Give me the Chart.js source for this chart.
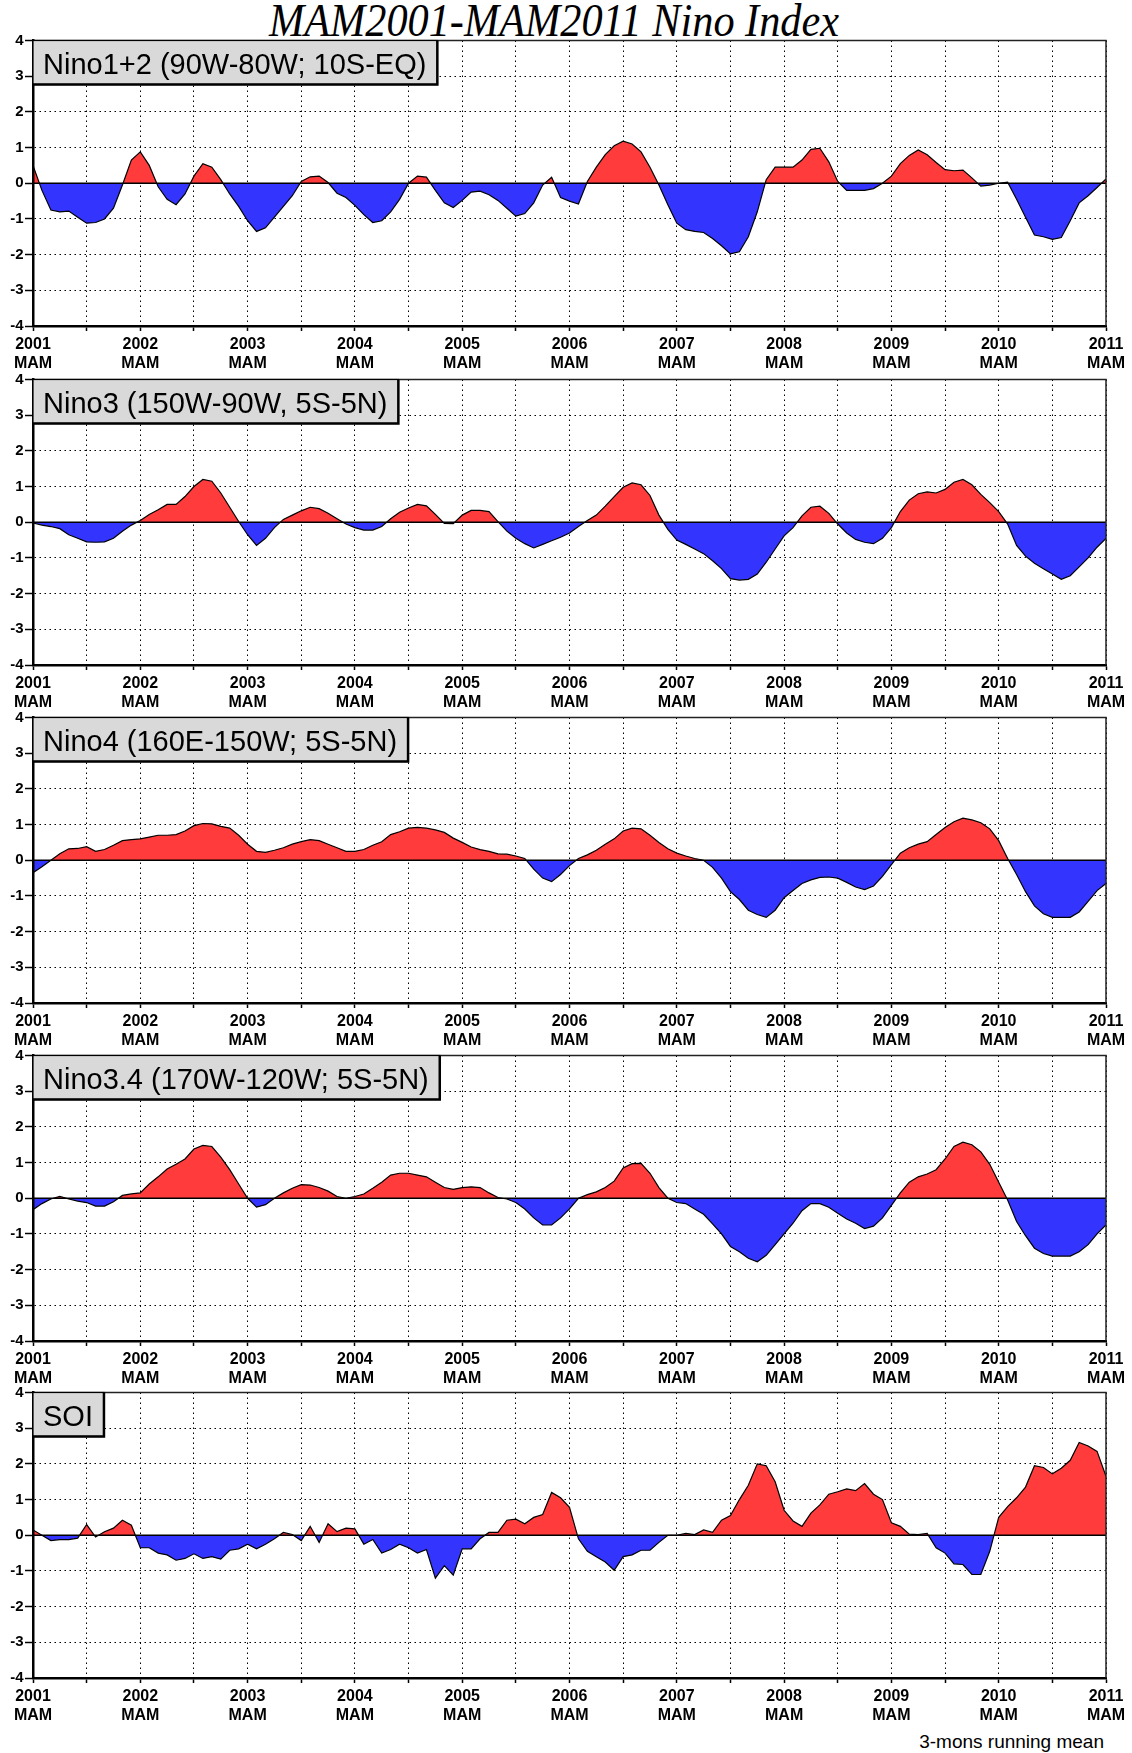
<!DOCTYPE html>
<html>
<head>
<meta charset="utf-8">
<title>MAM2001-MAM2011 Nino Index</title>
<script src="https://cdn.jsdelivr.net/npm/chart.js@4.4.1/dist/chart.umd.min.js"></script>
<style>
  body { margin: 0; background: #fff; }
  #page { position: relative; width: 1132px; height: 1753px; overflow: hidden; background: #fff; }
  #title {
    position: absolute; left: 0; top: -3px; width: 1108px; text-align: center;
    font: italic 47px/47px "Liberation Serif", "Times New Roman", serif; color: #000;
    transform: scaleX(0.9); transform-origin: 554px 0;
  }
  canvas.panel { position: absolute; left: 0; }
  #note {
    position: absolute; right: 28px; top: 1732px;
    font: 19px/19px "Liberation Sans", Arial, sans-serif; color: #000;
  }
</style>
</head>
<body>
<div id="page">
  <div id="title">MAM2001-MAM2011 Nino Index</div>
  <canvas id="c0" class="panel" width="1132" height="345"></canvas>
  <canvas id="c1" class="panel" width="1132" height="345"></canvas>
  <canvas id="c2" class="panel" width="1132" height="345"></canvas>
  <canvas id="c3" class="panel" width="1132" height="345"></canvas>
  <canvas id="c4" class="panel" width="1132" height="345"></canvas>
  <div id="note">3-mons running mean</div>
</div>
<script>
// Months since MAM 2001 (0 = MAM2001 ... 120 = MAM2011), ticks every half year
const tickMonths = [0, 6, 12, 18, 24, 30, 36, 42, 48, 54, 60, 66, 72, 78, 84, 90, 96, 102, 108, 114, 120];
const yearLabels = ['2001', '2002', '2003', '2004', '2005', '2006', '2007', '2008', '2009', '2010', '2011'];
const seasonLabel = 'MAM';
const yTicks = [-4, -3, -2, -1, 0, 1, 2, 3, 4];

const panelTitles = [
    'Nino1+2 (90W-80W; 10S-EQ)',
    'Nino3 (150W-90W, 5S-5N)',
    'Nino4 (160E-150W; 5S-5N)',
    'Nino3.4 (170W-120W; 5S-5N)',
    'SOI'
];

// 3-month running mean, monthly from MAM2001 to MAM2011
const nino12 = [
    0.5, -0.2, -0.75, -0.8, -0.78, -0.95, -1.12, -1.1, -1.0, -0.7, -0.05, 0.65,
    0.88, 0.5, -0.1, -0.45, -0.6, -0.3, 0.2, 0.55, 0.45, 0.1, -0.3, -0.65,
    -1.05, -1.35, -1.25, -0.95, -0.65, -0.35, 0.05, 0.18, 0.2, 0.02, -0.28, -0.4,
    -0.62, -0.88, -1.1, -1.05, -0.8, -0.45, 0.0, 0.2, 0.17, -0.2, -0.55, -0.68,
    -0.48, -0.25, -0.22, -0.32, -0.48, -0.7, -0.92, -0.85, -0.55, -0.05, 0.17, -0.4,
    -0.5, -0.58, 0.05, 0.45, 0.8, 1.05, 1.18, 1.1, 0.88, 0.45, -0.05, -0.6,
    -1.12, -1.3, -1.35, -1.38, -1.55, -1.75, -1.98, -1.92, -1.5, -0.8, 0.1, 0.45,
    0.45, 0.45, 0.65, 0.95, 0.98, 0.6, 0.05, -0.2, -0.2, -0.2, -0.15, 0.0,
    0.2, 0.55, 0.78, 0.93, 0.8, 0.58, 0.38, 0.35, 0.37, 0.15, -0.08, -0.05,
    0.0, 0.03, -0.45, -0.95, -1.45, -1.5, -1.57, -1.52, -1.05, -0.55, -0.35, -0.12,
    0.12
];

const nino3 = [
    -0.02, -0.08, -0.12, -0.18, -0.35, -0.45, -0.55, -0.56, -0.55, -0.45, -0.25, -0.08,
    0.05, 0.22, 0.35, 0.5, 0.5, 0.72, 1.0, 1.2, 1.15, 0.82, 0.42, 0.02,
    -0.35, -0.65, -0.45, -0.15, 0.08, 0.2, 0.32, 0.42, 0.38, 0.25, 0.1, -0.05,
    -0.15, -0.22, -0.22, -0.12, 0.1, 0.28, 0.4, 0.5, 0.46, 0.22, -0.03, -0.04,
    0.2, 0.33, 0.33, 0.3, 0.02, -0.25, -0.45, -0.6, -0.72, -0.62, -0.52, -0.42,
    -0.3, -0.12, 0.05, 0.2, 0.45, 0.72, 0.98, 1.1, 1.05, 0.75, 0.2, -0.2,
    -0.5, -0.62, -0.75, -0.88, -1.08, -1.3, -1.58, -1.62, -1.6, -1.45, -1.12, -0.75,
    -0.38, -0.15, 0.18, 0.42, 0.45, 0.25, -0.05, -0.3, -0.48, -0.56, -0.6, -0.45,
    -0.15, 0.3, 0.62, 0.8, 0.85, 0.82, 0.92, 1.12, 1.2, 1.05, 0.78, 0.55,
    0.3, -0.05, -0.65, -0.95, -1.15, -1.3, -1.45, -1.6, -1.5, -1.25, -1.0, -0.7,
    -0.45
];

const nino4 = [
    -0.35, -0.18, 0.0, 0.18, 0.32, 0.33, 0.38, 0.25, 0.3, 0.42, 0.55, 0.58,
    0.6, 0.65, 0.7, 0.7, 0.72, 0.82, 0.97, 1.03, 1.02, 0.95, 0.9, 0.7,
    0.45, 0.25, 0.22, 0.28, 0.35, 0.45, 0.52, 0.58, 0.55, 0.45, 0.35, 0.25,
    0.25, 0.3, 0.42, 0.52, 0.72, 0.8, 0.9, 0.92, 0.9, 0.85, 0.78, 0.62,
    0.5, 0.37, 0.3, 0.25, 0.18, 0.17, 0.12, 0.05, -0.25, -0.5, -0.6, -0.4,
    -0.15, 0.05, 0.15, 0.28, 0.45, 0.6, 0.82, 0.9, 0.88, 0.7, 0.5, 0.32,
    0.2, 0.12, 0.05, 0.0, -0.2, -0.5, -0.88, -1.1, -1.4, -1.52, -1.6, -1.4,
    -1.05, -0.85, -0.65, -0.55, -0.48, -0.47, -0.5, -0.62, -0.75, -0.82, -0.72, -0.45,
    -0.12, 0.2, 0.35, 0.45, 0.52, 0.72, 0.92, 1.08, 1.18, 1.13, 1.05, 0.88,
    0.55, 0.05, -0.4, -0.88, -1.28, -1.5, -1.6, -1.6, -1.6, -1.45, -1.15, -0.85,
    -0.65
];

const nino34 = [
    -0.32, -0.15, -0.02, 0.05, -0.02, -0.08, -0.12, -0.22, -0.22, -0.1, 0.08, 0.12,
    0.15, 0.4, 0.6, 0.82, 0.95, 1.1, 1.38, 1.48, 1.45, 1.15, 0.8, 0.4,
    0.0, -0.25, -0.18, 0.0, 0.15, 0.28, 0.38, 0.37, 0.3, 0.2, 0.05, 0.0,
    0.05, 0.12, 0.28, 0.45, 0.65, 0.7, 0.7, 0.65, 0.6, 0.45, 0.3, 0.25,
    0.3, 0.32, 0.3, 0.15, 0.02, -0.02, -0.12, -0.3, -0.55, -0.75, -0.75, -0.55,
    -0.3, 0.0, 0.1, 0.18, 0.3, 0.48, 0.85, 0.97, 0.98, 0.7, 0.3, 0.0,
    -0.12, -0.15, -0.3, -0.45, -0.72, -1.0, -1.35, -1.5, -1.68, -1.78, -1.6, -1.3,
    -1.0, -0.7, -0.35, -0.15, -0.15, -0.25, -0.42, -0.58, -0.7, -0.85, -0.78, -0.55,
    -0.2, 0.15, 0.45, 0.6, 0.68, 0.8, 1.1, 1.45, 1.57, 1.5, 1.3, 0.95,
    0.45, -0.05, -0.65, -1.05, -1.4, -1.55, -1.62, -1.62, -1.62, -1.5, -1.3, -1.0,
    -0.75
];

const soi = [
    0.15, 0.0, -0.15, -0.12, -0.12, -0.08, 0.3, -0.05, 0.1, 0.2, 0.42, 0.28,
    -0.35, -0.35, -0.5, -0.55, -0.7, -0.65, -0.52, -0.65, -0.6, -0.67, -0.42, -0.38,
    -0.25, -0.38, -0.25, -0.1, 0.08, 0.02, -0.15, 0.25, -0.2, 0.32, 0.1, 0.2,
    0.18, -0.25, -0.12, -0.5, -0.4, -0.25, -0.35, -0.5, -0.4, -1.2, -0.85, -1.12,
    -0.38, -0.38, -0.1, 0.08, 0.08, 0.42, 0.45, 0.32, 0.5, 0.58, 1.2, 1.05,
    0.78, -0.1, -0.45, -0.6, -0.75, -0.98, -0.6, -0.55, -0.42, -0.42, -0.2, 0.0,
    0.0, 0.05, 0.02, 0.15, 0.08, 0.42, 0.55, 1.0, 1.4, 2.0, 1.95, 1.5,
    0.7, 0.4, 0.25, 0.62, 0.85, 1.15, 1.22, 1.3, 1.25, 1.45, 1.15, 1.0,
    0.35, 0.25, 0.03, 0.02, 0.05, -0.35, -0.5, -0.8, -0.82, -1.1, -1.1, -0.45,
    0.5, 0.8, 1.05, 1.35, 1.95, 1.9, 1.72, 1.88, 2.1, 2.6, 2.5, 2.35,
    1.65
];

const panelSeries = [nino12, nino3, nino4, nino34, soi];

// Layout (page pixels)
const panelTops = [40, 379, 717, 1055, 1392];
const canvasLead = 10;      // canvas starts this far above the plot top
const plotHeight = 286;
const plotLeft = 33;
const plotRight = 1106;

const RED = '#ff3b3b';
const BLUE = '#3434ff';
const FONT = '"Liberation Sans", Arial, sans-serif';

// Top/right frame and the grey name box in the upper left corner
const panelFrame = {
    id: 'panelFrame',
    afterDraw(chart, args, opts) {
        const ctx = chart.ctx;
        const a = chart.chartArea;
        ctx.save();
        ctx.strokeStyle = '#222';
        ctx.lineWidth = 1.5;
        ctx.beginPath();
        ctx.moveTo(a.left, a.top);
        ctx.lineTo(a.right, a.top);
        ctx.lineTo(a.right, a.bottom);
        ctx.stroke();

        ctx.font = '29px ' + FONT;
        const w = ctx.measureText(opts.text).width + 21;
        const h = 44;
        ctx.fillStyle = '#d9d9d9';
        ctx.fillRect(a.left, a.top, w, h);
        ctx.strokeStyle = '#000';
        ctx.lineWidth = 1.2;
        ctx.strokeRect(a.left, a.top, w, h);
        ctx.lineWidth = 2.5;
        ctx.beginPath();
        ctx.moveTo(a.left + w, a.top);
        ctx.lineTo(a.left + w, a.top + h);
        ctx.lineTo(a.left, a.top + h);
        ctx.stroke();

        ctx.fillStyle = '#000';
        ctx.textBaseline = 'alphabetic';
        ctx.textAlign = 'left';
        ctx.fillText(opts.text, a.left + 10, a.top + 33);
        ctx.restore();
    }
};

function makePanel(index) {
    const canvas = document.getElementById('c' + index);
    canvas.style.top = (panelTops[index] - canvasLead) + 'px';
    const ctx = canvas.getContext('2d');
    const values = panelSeries[index];

    return new Chart(ctx, {
        type: 'line',
        data: {
            datasets: [
                {
                    data: values.map((v, i) => ({ x: i, y: v })),
                    borderColor: '#000',
                    borderWidth: 1.2,
                    pointRadius: 0,
                    tension: 0,
                    fill: { target: { value: 0 }, above: RED, below: BLUE },
                    order: 2
                },
                {
                    // zero line
                    data: [{ x: tickMonths[0], y: 0 }, { x: tickMonths[tickMonths.length - 1], y: 0 }],
                    borderColor: '#000',
                    borderWidth: 1.6,
                    pointRadius: 0,
                    fill: false,
                    order: 1
                }
            ]
        },
        options: {
            responsive: false,
            animation: false,
            events: [],
            layout: { padding: { left: 0, right: 1132 - plotRight, top: canvasLead, bottom: 0 } },
            plugins: {
                legend: { display: false },
                tooltip: { enabled: false },
                panelFrame: { text: panelTitles[index] }
            },
            scales: {
                x: {
                    type: 'linear',
                    min: tickMonths[0],
                    max: tickMonths[tickMonths.length - 1],
                    afterBuildTicks: (scale) => { scale.ticks = tickMonths.map(v => ({ value: v })); },
                    afterFit: (scale) => { scale.height = 345 - canvasLead - plotHeight; },
                    grid: { color: '#000', lineWidth: 1, tickLength: 5, tickColor: '#000', tickWidth: 1.5 },
                    border: { color: '#000', width: 2.5, dash: [1.5, 3.5], z: 1 },
                    ticks: {
                        autoSkip: false,
                        maxRotation: 0,
                        padding: 4,
                        color: '#000',
                        font: { family: FONT, size: 16, weight: 'bold', lineHeight: 1.2 },
                        callback: (v) => (v % 12 === 0 ? [yearLabels[v / 12], seasonLabel] : '')
                    }
                },
                y: {
                    min: yTicks[0],
                    max: yTicks[yTicks.length - 1],
                    afterBuildTicks: (scale) => { scale.ticks = yTicks.map(v => ({ value: v })); },
                    afterFit: (scale) => { scale.width = plotLeft; },
                    grid: { color: '#000', lineWidth: 1, tickLength: 8, tickColor: '#000', tickWidth: 1.5 },
                    border: { color: '#000', width: 2.5, dash: [1.5, 3.5], z: 1 },
                    ticks: {
                        padding: 1.5,
                        color: '#000',
                        font: { family: FONT, size: 15, weight: 'bold' }
                    }
                }
            }
        },
        plugins: [panelFrame]
    });
}

for (let i = 0; i < panelSeries.length; i++) {
    makePanel(i);
}
</script>
</body>
</html>
